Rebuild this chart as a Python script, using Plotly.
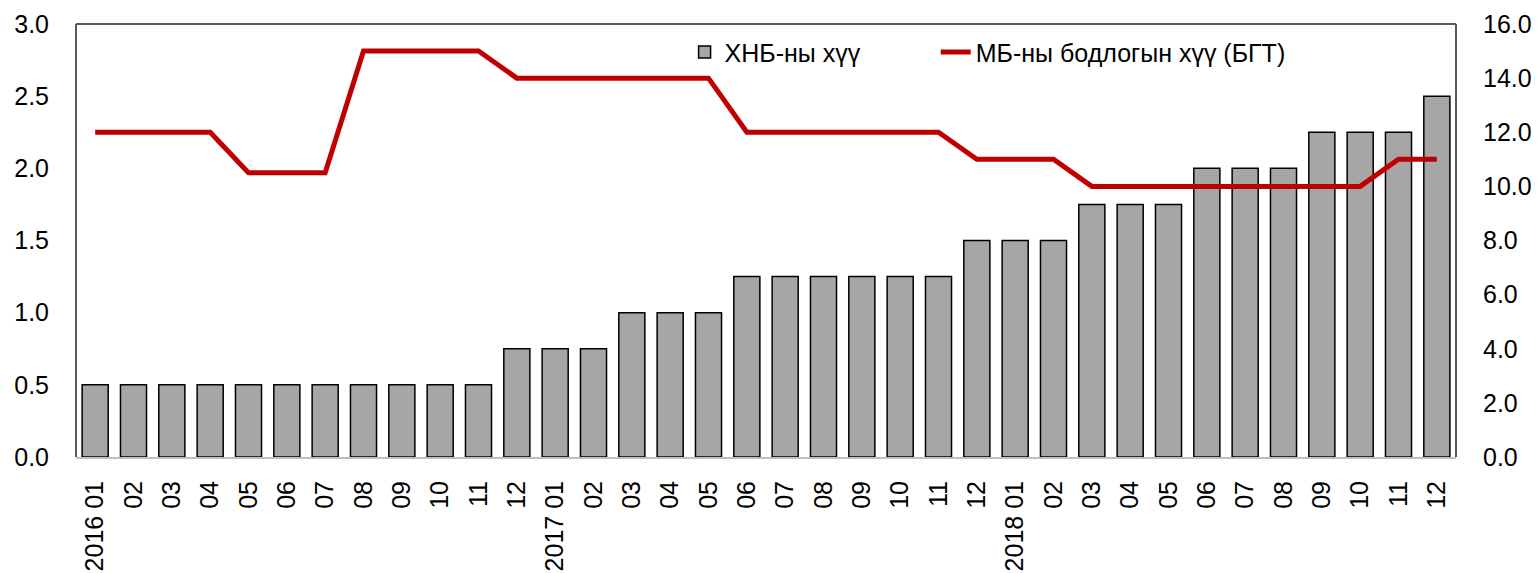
import plotly.graph_objects as go

categories = [
    "2016 01", "2016 02", "2016 03", "2016 04", "2016 05", "2016 06",
    "2016 07", "2016 08", "2016 09", "2016 10", "2016 11", "2016 12",
    "2017 01", "2017 02", "2017 03", "2017 04", "2017 05", "2017 06",
    "2017 07", "2017 08", "2017 09", "2017 10", "2017 11", "2017 12",
    "2018 01", "2018 02", "2018 03", "2018 04", "2018 05", "2018 06",
    "2018 07", "2018 08", "2018 09", "2018 10", "2018 11", "2018 12",
]
tick_labels = [
    "2016 01", "02", "03", "04", "05", "06", "07", "08", "09", "10", "11", "12",
    "2017 01", "02", "03", "04", "05", "06", "07", "08", "09", "10", "11", "12",
    "2018 01", "02", "03", "04", "05", "06", "07", "08", "09", "10", "11", "12",
]
fed_rate = [
    0.5, 0.5, 0.5, 0.5, 0.5, 0.5, 0.5, 0.5, 0.5, 0.5, 0.5, 0.75,
    0.75, 0.75, 1.0, 1.0, 1.0, 1.25, 1.25, 1.25, 1.25, 1.25, 1.25, 1.5,
    1.5, 1.5, 1.75, 1.75, 1.75, 2.0, 2.0, 2.0, 2.25, 2.25, 2.25, 2.5,
]
mb_rate = [
    12, 12, 12, 12, 10.5, 10.5, 10.5, 15, 15, 15, 15, 14,
    14, 14, 14, 14, 14, 12, 12, 12, 12, 12, 12, 11,
    11, 11, 10, 10, 10, 10, 10, 10, 10, 10, 11, 11,
]
name_bar = "ХНБ-ны хүү"
name_line = "МБ-ны бодлогын хүү (БГТ)"

FONT = "Liberation Sans, Arial, sans-serif"
FS = 25

fig = go.Figure()
fig.add_trace(go.Bar(
    x=categories, y=fed_rate, name=name_bar,
    marker=dict(color="#A6A6A6", line=dict(color="#000000", width=1.5)),
    yaxis="y", legend="legend",
))
fig.add_trace(go.Scatter(
    x=categories, y=mb_rate, name=name_line, mode="lines",
    line=dict(color="#C00000", width=5),
    yaxis="y2", legend="legend2",
))

legend_common = dict(
    orientation="h", y=0.935, xanchor="left", yanchor="middle",
    font=dict(size=FS), bgcolor="rgba(0,0,0,0)",
)

fig.update_layout(
    template="none",
    width=1539, height=573,
    margin=dict(l=76, r=83, t=24, b=116, autoexpand=False),
    paper_bgcolor="white", plot_bgcolor="white",
    font=dict(family=FONT, size=FS, color="#000000"),
    bargap=0.32,
    showlegend=True,
    legend=dict(x=0.441, **legend_common),
    legend2=dict(x=0.623, **legend_common),
    xaxis=dict(
        type="category", range=[-0.5, 35.5], automargin=False,
        tickmode="array", tickvals=categories, ticktext=tick_labels,
        tickangle=-90, showgrid=False, zeroline=False,
        showline=True, linecolor="#BFBFBF", linewidth=2,
        ticks="", ticklabelstandoff=12,
        tickfont=dict(size=FS),
    ),
    yaxis=dict(
        range=[0, 3], dtick=0.5, tickformat=".1f", automargin=False,
        showgrid=False, zeroline=False, showline=False,
        ticks="", ticklabelstandoff=26, tickfont=dict(size=FS),
    ),
    yaxis2=dict(
        range=[0, 16], dtick=2, tickformat=".1f", automargin=False,
        overlaying="y", side="right",
        showgrid=False, zeroline=False, showline=False,
        ticks="", ticklabelstandoff=26, tickfont=dict(size=FS),
    ),
    shapes=[
        dict(type="line", xref="paper", yref="paper", x0=0, x1=1, y0=1, y1=1,
             line=dict(color="#595959", width=2)),
        dict(type="line", xref="paper", yref="paper", x0=0, x1=0, y0=0, y1=1,
             line=dict(color="#595959", width=2)),
        dict(type="line", xref="paper", yref="paper", x0=1, x1=1, y0=0, y1=1,
             line=dict(color="#595959", width=2)),
    ],
)

fig.write_html(
    "out.html",
    config={"displayModeBar": False},
    post_script="document.body.style.margin='0px';document.body.style.overflow='hidden';",
)
